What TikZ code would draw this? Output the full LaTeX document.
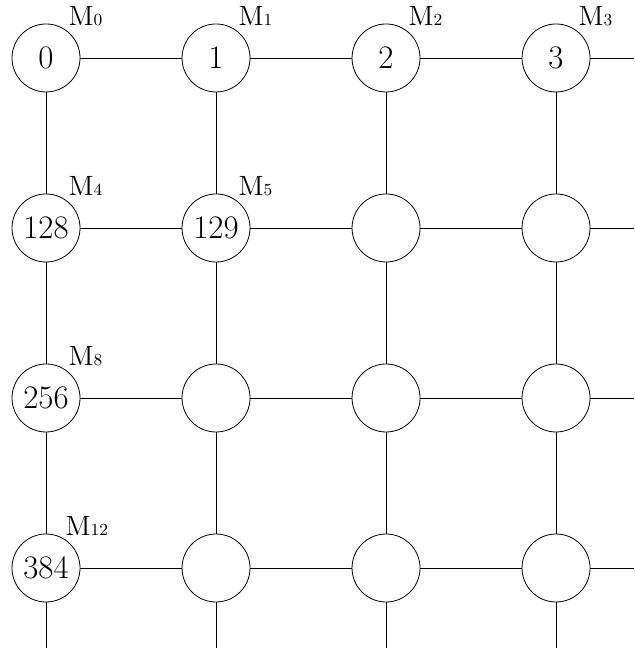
\documentclass[tikz,border=0pt]{standalone}
\usepackage{fontspec}
\tikzset{
  mod/.style={draw,circle,minimum size=1.2cm,inner sep=0pt,font=\fontsize{16.5}{16.5}\selectfont},
  tag/.style={anchor=base west,inner sep=0pt,font=\fontsize{14}{14}\selectfont},
}
\newcommand{\mlab}[1]{M{\fontsize{8.5}{8.5}\selectfont #1}}
\begin{document}
\begin{tikzpicture}
					\useasboundingbox (-0.812,1.023) rectangle (10.376,-10.5);
					\node[mod] (m0)  at (0,0)   {0};
					\node[mod] (m1)  at (3,0)   {1};
					\node[mod] (m2)  at (6,0)   {2};
					\node[mod] (m3)  at (9,0)   {3};
					\node[mod] (m4)  at (0,-3)  {128};
					\node[mod] (m5)  at (3,-3)  {129};
					\node[mod] (m6)  at (6,-3)  {};
					\node[mod] (m7)  at (9,-3)  {};
					\node[mod] (m8)  at (0,-6)  {256};
					\node[mod] (m9)  at (3,-6)  {};
					\node[mod] (m10) at (6,-6)  {};
					\node[mod] (m11) at (9,-6)  {};
					\node[mod] (m12) at (0,-9)  {384};
					\node[mod] (m13) at (3,-9)  {};
					\node[mod] (m14) at (6,-9)  {};
					\node[mod] (m15) at (9,-9)  {};
					%
					\node[tag] (t0)  at (0.39,0.58)  {\mlab{0}};
					\node[tag] (t1)  at (3.39,0.58)  {\mlab{1}};
					\node[tag] (t2)  at (6.39,0.58)  {\mlab{2}};
					\node[tag] (t3)  at (9.39,0.58)  {\mlab{3}};
					\node[tag] (t4)  at (0.39,-2.42) {\mlab{4}};
					\node[tag] (t5)  at (3.39,-2.42) {\mlab{5}};
					\node[tag] (t8)  at (0.39,-5.42) {\mlab{8}};
					\node[tag] (t12) at (0.34,-8.42) {\mlab{12}};
					%
					\coordinate (r0) at (10.376,0);
					\coordinate (r1) at (10.376,-3);
					\coordinate (r2) at (10.376,-6);
					\coordinate (r3) at (10.376,-9);
					\coordinate (d0) at (0,-10.41);
					\coordinate (d1) at (3,-10.41);
					\coordinate (d2) at (6,-10.41);
					\coordinate (d3) at (9,-10.41);
					%
					\draw (m0) -- (m1);
					\draw (m1) -- (m2);
					\draw (m2) -- (m3);
					\draw (m3) -- (r0);
					%
					\draw (m4) -- (m5);
					\draw (m5) -- (m6);
					\draw (m6) -- (m7);
					\draw (m7) -- (r1);
					%
					\draw (m8) -- (m9);
					\draw (m9) -- (m10);
					\draw (m10) -- (m11);
					\draw (m11) -- (r2);
					%
					\draw (m12) -- (m13);
					\draw (m13) -- (m14);
					\draw (m14) -- (m15);
					\draw (m15) -- (r3);
					%
					\draw (m0) -- (m4);
					\draw (m4) -- (m8);
					\draw (m8) -- (m12);
					\draw (m12) -- (d0);
					%
					\draw (m1) -- (m5);
					\draw (m5) -- (m9);
					\draw (m9) -- (m13);
					\draw (m13) -- (d1);
					%
					\draw (m2) -- (m6);
					\draw (m6) -- (m10);
					\draw (m10) -- (m14);
					\draw (m14) -- (d2);
					%
					\draw (m3) -- (m7);
					\draw (m7) -- (m11);
					\draw (m11) -- (m15);
					\draw (m15) -- (d3);
				\end{tikzpicture}
\end{document}
